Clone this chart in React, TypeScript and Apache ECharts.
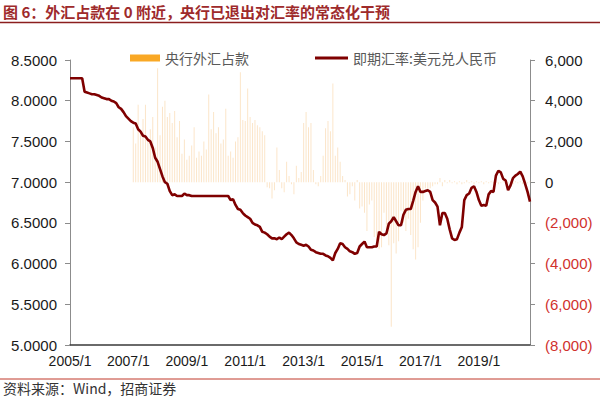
import React, { useEffect, useRef } from "react";
import * as echarts from "echarts";

// Monthly categories 2005/1 .. 2020/10
const categories: string[] = [];
for (let y = 2005; y <= 2020; y++) {
  const last = y === 2020 ? 10 : 12;
  for (let m = 1; m <= last; m++) categories.push(`${y}/${m}`);
}

// 即期汇率:美元兑人民币 (monthly)
const rate2005 = [8.2765, 8.2765, 8.2765, 8.2765, 8.2765, 8.2765, 8.11, 8.1, 8.09, 8.08, 8.08, 8.07];
const rate2006 = [8.06, 8.04, 8.03, 8.02, 8.02, 8.0, 7.99, 7.97, 7.92, 7.9, 7.86, 7.81];
const rate2007 = [7.78, 7.75, 7.73, 7.72, 7.65, 7.62, 7.57, 7.56, 7.52, 7.5, 7.42, 7.3];
const rate2008 = [7.25, 7.16, 7.07, 7.0, 6.98, 6.89, 6.84, 6.85, 6.83, 6.83, 6.83, 6.86];
const rate2009 = [6.84, 6.84, 6.83, 6.83, 6.83, 6.83, 6.83, 6.83, 6.83, 6.83, 6.83, 6.83];
const rate2010 = [6.83, 6.83, 6.83, 6.83, 6.83, 6.83, 6.78, 6.79, 6.72, 6.67, 6.66, 6.62];
const rate2011 = [6.59, 6.57, 6.55, 6.5, 6.48, 6.47, 6.45, 6.39, 6.38, 6.36, 6.33, 6.31];
const rate2012 = [6.31, 6.3, 6.32, 6.3, 6.33, 6.36, 6.38, 6.35, 6.31, 6.26, 6.24, 6.23];
const rate2013 = [6.22, 6.23, 6.21, 6.17, 6.16, 6.14, 6.13, 6.12, 6.12, 6.1, 6.09, 6.07];
const rate2014 = [6.04, 6.13, 6.18, 6.25, 6.24, 6.2, 6.18, 6.15, 6.14, 6.12, 6.13, 6.21];
const rate2015 = [6.24, 6.27, 6.2, 6.2, 6.2, 6.21, 6.21, 6.39, 6.36, 6.35, 6.37, 6.49];
const rate2016 = [6.52, 6.57, 6.52, 6.47, 6.47, 6.6, 6.66, 6.67, 6.67, 6.77, 6.88, 6.95];
const rate2017 = [6.88, 6.88, 6.89, 6.9, 6.88, 6.78, 6.75, 6.7, 6.47, 6.62, 6.62, 6.55];
const rate2018 = [6.42, 6.31, 6.29, 6.3, 6.38, 6.45, 6.78, 6.84, 6.86, 6.93, 6.95, 6.88];
const rate2019 = [6.78, 6.71, 6.72, 6.71, 6.85, 6.89, 6.88, 7.08, 7.14, 7.12, 7.04, 7.02];
const rate2020 = [6.9, 6.96, 7.05, 7.08, 7.1, 7.13, 7.07, 6.98, 6.88, 6.76];

// 央行外汇占款 monthly change (亿元)
const fx2005 = [null, null, null, null, null, null, null, null, null, null, null, null];
const fx2006 = [null, null, null, null, null, null, null, null, null, null, null, null];
const fx2007 = [null, null, 2700, 1900, 3800, 2400, 3100, 3800, 2100, 2600, 3200, 1700];
const fx2008 = [5600, 2300, 3700, 4000, 3200, 3400, 2900, 3500, 2200, 3000, 1400, 2100];
const fx2009 = [1100, 1300, 1800, 2700, 1200, 1500, 1300, 2000, 1600, 4300, 2600, 3450];
const fx2010 = [2400, 2700, 1900, 2100, 3600, 1300, 1500, 1200, 2000, 2200, 5400, 3050];
const fx2011 = [3000, 4600, 3200, 2900, 3050, 2800, 2700, 2500, 2300, -250, -300, -800];
const fx2012 = [-400, 1700, 600, -300, -500, 1000, 300, -100, -600, 800, 200, 500];
const fx2013 = [2900, 3450, 2700, 2900, 600, -100, -200, 300, 1300, 2650, 3000, 2500];
const fx2014 = [4850, 1300, 1700, 1000, 300, 100, -700, -600, -200, -900, 100, -1300];
const fx2015 = [-1200, -1500, -2400, -1100, -900, -2700, -3000, -3300, -3200, -1500, -2300, -3100];
const fx2016 = [-7100, -3000, -3500, -2900, -1400, -2000, -2400, -1800, -2600, -3300, -3800, -3200];
const fx2017 = [-2000, -900, -300, -400, -300, -200, -100, -100, 200, -200, 100, -50];
const fx2018 = [100, -50, 50, -100, 50, -100, -50, 100, -50, 50, -100, 50];
const fx2019 = [-50, 50, -100, 50, -50, 50, -50, 50, -100, -50, 50, -50];
const fx2020 = [-50, 50, -100, 50, -50, 50, -100, 50, -50, 50];

const rateData = [
  ...rate2005, ...rate2006, ...rate2007, ...rate2008, ...rate2009, ...rate2010, ...rate2011, ...rate2012,
  ...rate2013, ...rate2014, ...rate2015, ...rate2016, ...rate2017, ...rate2018, ...rate2019, ...rate2020,
];
const fxData = [
  ...fx2005, ...fx2006, ...fx2007, ...fx2008, ...fx2009, ...fx2010, ...fx2011, ...fx2012,
  ...fx2013, ...fx2014, ...fx2015, ...fx2016, ...fx2017, ...fx2018, ...fx2019, ...fx2020,
];

const titleA = "图 6：外汇占款在 0 附近，";
const titleB = "央行已退出对汇率的常态化干预";
const sourceText = "资料来源：Wind，招商证券";
const barName = "央行外汇占款";
const lineName = "即期汇率:美元兑人民币";

const NUM_FONT = '"Liberation Sans", Arial, sans-serif';
const CJK_FONT = '"Noto Sans CJK SC", sans-serif';

function fmtThousands(v: number): string {
  return Math.abs(v).toString().replace(/\B(?=(\d{3})+(?!\d))/g, ",");
}

export default function App() {
  const ref = useRef<HTMLDivElement>(null);
  useEffect(() => {
    if (!ref.current) return;
    const chart = echarts.init(ref.current, undefined, { renderer: "svg" });
    const option: any = {
      animation: false,
      backgroundColor: "#ffffff",
      grid: { left: 70, right: 70, top: 60, bottom: 52, containLabel: false },
      legend: [
        {
          data: [{ name: barName, itemStyle: { color: "#F9A825", opacity: 1 } }],
          left: 125,
          top: 46,
          icon: "rect",
          itemWidth: 30,
          itemHeight: 7,
          textStyle: { fontSize: 14, color: "#595959", fontFamily: CJK_FONT },
        },
        {
          data: [lineName],
          left: 310,
          top: 46,
          icon: "rect",
          itemWidth: 33,
          itemHeight: 3,
          textStyle: { fontSize: 14, color: "#595959", fontFamily: CJK_FONT },
        },
      ],
      xAxis: {
        type: "category",
        data: categories,
        boundaryGap: false,
        axisLine: { show: true, onZero: false, lineStyle: { color: "#3a3a3a", width: 1.5 } },
        axisTick: { show: false },
        axisLabel: { interval: 23, color: "#1a1a1a", fontSize: 14, fontFamily: NUM_FONT, margin: 9 },
        splitLine: { show: false },
      },
      yAxis: [
        {
          type: "value",
          position: "left",
          min: 5,
          max: 8.5,
          interval: 0.5,
          axisLine: { show: true, lineStyle: { color: "#8c8c8c", width: 1 } },
          axisTick: { show: true, length: 5, lineStyle: { color: "#8c8c8c" } },
          axisLabel: {
            formatter: (v: number) => v.toFixed(4),
            color: "#1a1a1a",
            fontSize: 15,
            fontFamily: NUM_FONT,
            margin: 13,
          },
          splitLine: { show: false },
        },
        {
          type: "value",
          position: "right",
          min: -8000,
          max: 6000,
          interval: 2000,
          axisLine: { show: true, lineStyle: { color: "#8c8c8c", width: 1 } },
          axisTick: { show: true, length: 5, lineStyle: { color: "#8c8c8c" } },
          axisLabel: {
            formatter: (v: number) => (v < 0 ? `{neg|(${fmtThousands(v)})}` : fmtThousands(v)),
            color: "#1a1a1a",
            fontSize: 15,
            fontFamily: NUM_FONT,
            margin: 15,
            rich: { neg: { color: "#D0312D", fontSize: 15, fontFamily: NUM_FONT } },
          },
          splitLine: { show: false },
        },
      ],
      series: [
        {
          name: barName,
          type: "bar",
          yAxisIndex: 1,
          data: fxData,
          barWidth: 1,
          itemStyle: { color: "#F6C27E", opacity: 0.42 },
          z: 1,
        },
        {
          name: lineName,
          type: "line",
          yAxisIndex: 0,
          data: rateData,
          showSymbol: false,
          symbol: "none",
          lineStyle: { color: "#7F0000", width: 2.6 },
          itemStyle: { color: "#7F0000" },
          z: 3,
        },
      ],
      graphic: [
        {
          type: "text",
          left: 3,
          top: 4,
          style: { text: titleA, fill: "#9E2A2B", font: `bold 15px ${CJK_FONT}` },
        },
        {
          type: "text",
          left: 180,
          top: 4,
          style: { text: titleB, fill: "#9E2A2B", font: `bold 15px ${CJK_FONT}` },
        },
        {
          type: "line",
          shape: { x1: 0, y1: 22.5, x2: 600, y2: 22.5 },
          style: { stroke: "#8B1E1E", lineWidth: 1.5 },
        },
        {
          type: "line",
          shape: { x1: 0, y1: 379, x2: 600, y2: 379 },
          style: { stroke: "#C0392B", lineWidth: 1 },
        },
        {
          type: "text",
          left: 3,
          top: 381,
          style: { text: sourceText, fill: "#333333", font: `14px ${CJK_FONT}` },
        },
      ],
    };
    chart.setOption(option);
    return () => chart.dispose();
  }, []);
  return (
    <div
      ref={ref}
      style={{ position: "fixed", left: 0, top: 0, width: 600, height: 397, background: "#fff" }}
    />
  );
}
